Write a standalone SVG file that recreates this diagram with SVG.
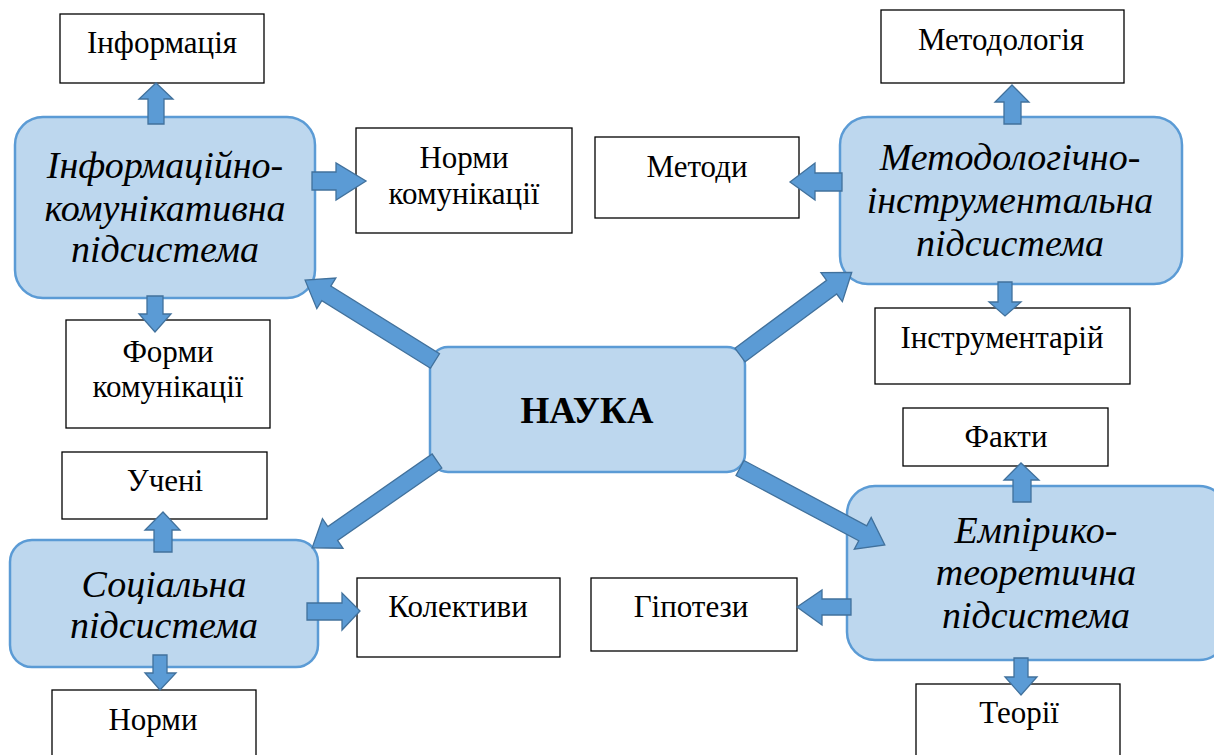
<svg xmlns="http://www.w3.org/2000/svg" width="1214" height="755" viewBox="0 0 1214 755">
<style>
.sub{fill:#BDD7EE;stroke:#5B9BD5;stroke-width:2.5}
.leaf{fill:#FFFFFF;stroke:#000000;stroke-width:1.3}
.arr{fill:#5B9BD5;stroke:#41719C;stroke-width:1.3;stroke-linejoin:miter}
.t{font-family:"Liberation Serif","Times New Roman",serif;font-size:31px;fill:#000;text-anchor:middle}
.it{font-family:"Liberation Serif","Times New Roman",serif;font-size:38px;font-style:italic;fill:#000;text-anchor:middle}
.b{font-family:"Liberation Serif","Times New Roman",serif;font-size:37px;font-weight:bold;fill:#000;text-anchor:middle}
</style>
<rect width="1214" height="755" fill="#FFFFFF"/>
<g id="nodes">
<g id="nauka"><rect class="sub" x="430" y="347" width="315" height="125" rx="18"/><text class="b" x="587" y="423">НАУКА</text></g>
<g id="info-comm"><rect class="sub" x="15" y="117" width="300" height="181" rx="28"/>
<text class="it" x="165" y="178">Інформаційно-</text><text class="it" x="165" y="221">комунікативна</text><text class="it" x="165" y="262">підсистема</text></g>
<g id="method"><rect class="sub" x="840" y="117" width="342" height="167" rx="28"/>
<text class="it" x="1010" y="170">Методологічно-</text><text class="it" x="1010" y="213">інструментальна</text><text class="it" x="1010" y="256">підсистема</text></g>
<g id="social"><rect class="sub" x="10" y="540" width="308" height="127" rx="22"/>
<text class="it" x="164" y="597">Соціальна</text><text class="it" x="164" y="638">підсистема</text></g>
<g id="empirico"><rect class="sub" x="847" y="486" width="380" height="174" rx="28"/>
<text class="it" x="1036" y="543">Емпірико-</text><text class="it" x="1036" y="585">теоретична</text><text class="it" x="1036" y="628">підсистема</text></g>
<g id="informatsiia"><rect class="leaf" x="60" y="14" width="204" height="69"/><text class="t" x="162" y="53">Інформація</text></g>
<g id="normy-komunikatsii"><rect class="leaf" x="356" y="128" width="216" height="105"/><text class="t" x="464" y="168">Норми</text><text class="t" x="464" y="204">комунікації</text></g>
<g id="formy-komunikatsii"><rect class="leaf" x="66" y="320" width="204" height="108"/><text class="t" x="168" y="362">Форми</text><text class="t" x="168" y="397">комунікації</text></g>
<g id="metodolohiia"><rect class="leaf" x="881" y="10" width="243" height="73"/><text class="t" x="1001" y="50">Методологія</text></g>
<g id="metody"><rect class="leaf" x="595" y="137" width="204" height="81"/><text class="t" x="697" y="177">Методи</text></g>
<g id="instrumentarii"><rect class="leaf" x="875" y="308" width="255" height="76"/><text class="t" x="1002" y="348">Інструментарій</text></g>
<g id="fakty"><rect class="leaf" x="903" y="408" width="205" height="58"/><text class="t" x="1006" y="447">Факти</text></g>
<g id="hipotezy"><rect class="leaf" x="591" y="578" width="206" height="73"/><text class="t" x="691" y="617">Гіпотези</text></g>
<g id="teorii"><rect class="leaf" x="916" y="684" width="204" height="76"/><text class="t" x="1019" y="723">Теорії</text></g>
<g id="ucheni"><rect class="leaf" x="62" y="452" width="205" height="67"/><text class="t" x="165" y="491">Учені</text></g>
<g id="kolektyvy"><rect class="leaf" x="357" y="578" width="203" height="79"/><text class="t" x="458" y="617">Колективи</text></g>
<g id="normy"><rect class="leaf" x="52" y="690" width="204" height="70"/><text class="t" x="153" y="730">Норми</text></g>
</g>
<g id="connectors">
<polygon class="arr" points="148,124 148,99 139,99 156,83 173,99 164,99 164,124"/>
<polygon class="arr" points="312,172 336,172 336,163 366,181 336,200 336,190 312,190"/>
<polygon class="arr" points="147,296 147,314 139,314 155,332 171,314 163,314 163,296"/>
<polygon class="arr" points="1004,124 1004,102 995,102 1012,85 1029,102 1021,102 1021,124"/>
<polygon class="arr" points="842,173 815,173 815,163 790,182 815,200 815,191 842,191"/>
<polygon class="arr" points="998,282 998,302 989,302 1005,316 1021,302 1012,302 1012,282"/>
<polygon class="arr" points="1013,502 1013,480 1004,480 1021,463 1039,480 1031,480 1031,502"/>
<polygon class="arr" points="1014,658 1014,677 1005,677 1021,695 1037,677 1028,677 1028,658"/>
<polygon class="arr" points="851,599 822,599 822,590 797,607 822,625 822,615 851,615"/>
<polygon class="arr" points="154,552 154,530 145,530 163,512 180,530 172,530 172,552"/>
<polygon class="arr" points="307,603 342,603 342,593 360,611 342,630 342,620 307,620"/>
<polygon class="arr" points="153,655 153,673 145,673 160,690 176,673 167,673 167,655"/>
<g transform="translate(435,361) rotate(211.9)"><polygon class="arr" points="0,-8.5 128,-8.5 128,-18 153,0 128,18 128,8.5 0,8.5"/></g>
<g transform="translate(437,461) rotate(145.2)"><polygon class="arr" points="0,-8.5 127,-8.5 127,-18 152,0 127,18 127,8.5 0,8.5"/></g>
<g transform="translate(740,355) rotate(-36.5)"><polygon class="arr" points="0,-8.5 114,-8.5 114,-18 139,0 114,18 114,8.5 0,8.5"/></g>
<g transform="translate(740,468) rotate(28)"><polygon class="arr" points="0,-8.5 139,-8.5 139,-18 164,0 139,18 139,8.5 0,8.5"/></g>
</g>
</svg>
